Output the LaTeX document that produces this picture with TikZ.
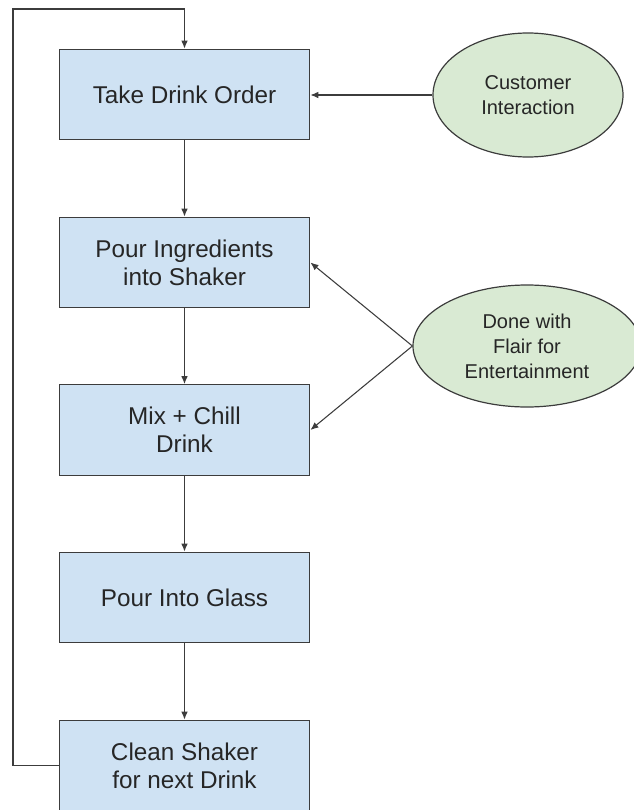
\documentclass[tikz,border=0pt]{standalone}
\usepackage{fontspec}
\setmainfont{Liberation Sans}
\usetikzlibrary{shapes.geometric,arrows.meta}
\definecolor{stepblue}{HTML}{CFE2F3}
\definecolor{notegreen}{HTML}{D9EAD3}
\definecolor{linegray}{HTML}{3C3C3C}
\begin{document}
\begin{tikzpicture}[x=0.75pt, y=-0.75pt, >={Latex[length=6pt,width=5pt]},
    stepbox/.style={rectangle, draw=linegray, line width=0.9pt, fill=stepblue,
      minimum width=188pt, minimum height=68pt, inner sep=0pt, align=center,
      text=black!85, font=\fontsize{18.2}{21}\selectfont},
    note/.style={ellipse, draw=linegray, line width=0.9pt, fill=notegreen,
      inner sep=0pt, align=center, text=black!85,
      font=\fontsize{15}{18.75}\selectfont},
    flow/.style={->, draw=linegray, line width=0.8pt}]
  \useasboundingbox (0,0) rectangle (634,810);
  \clip (0,0) rectangle (634,810);
  % Steps of the drink
  \node[stepbox] (take)  at (184.5,94.5)  {Take Drink Order};
  \node[stepbox] (pour)  at (184.5,262.5) {Pour Ingredients\\into Shaker};
  \node[stepbox] (mix)   at (184.5,430)   {Mix + Chill\\Drink};
  \node[stepbox] (glass) at (184.5,597.5) {Pour Into Glass};
  \node[stepbox] (clean) at (184.5,765.5) {Clean Shaker\\for next Drink};
  % Side notes
  \node[note, minimum width=142.5pt, minimum height=93pt] (cust) at (528,95)
    {Customer\\Interaction};
  \node[note, minimum width=171pt, minimum height=91.5pt] (flair) at (527,346)
    {Done with\\Flair for\\Entertainment};
  % Main flow
  \draw[flow] (take) -- (pour);
  \draw[flow] (pour) -- (mix);
  \draw[flow] (mix) -- (glass);
  \draw[flow] (glass) -- (clean);
  % Notes into steps
  \draw[flow] (cust.west) -- (take.east |- cust.west);
  \draw[flow] (flair.west) -- (pour.east);
  \draw[flow] (flair.west) -- (mix.east);
  % Back to the start
  \coordinate (looptop) at (13,9);
  \draw[flow] (clean.west) -| (looptop) -| (take.north);
\end{tikzpicture}
\end{document}
